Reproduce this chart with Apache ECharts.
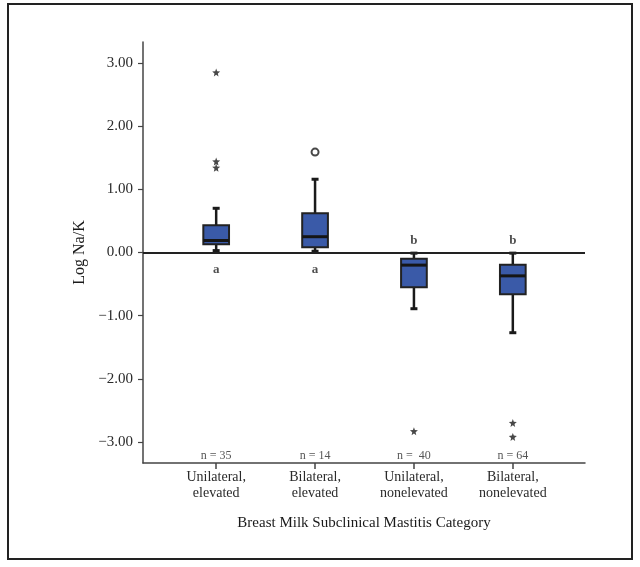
<!DOCTYPE html>
<html>
<head>
<meta charset="utf-8">
<script src="https://cdn.jsdelivr.net/npm/echarts@6/dist/echarts.min.js"></script>
<style>html,body{margin:0;padding:0;background:#fff}#c{width:640px;height:567px}</style>
</head>
<body>
<div id="c"></div>
<script>
const categories = ['Unilateral,\nelevated', 'Bilateral,\nelevated', 'Unilateral,\nnonelevated', 'Bilateral,\nnonelevated'];
const lowerWhisker = [0.03, 0.02, -0.89, -1.27];
const q1 = [0.13, 0.085, -0.55, -0.66];
const median = [0.19, 0.25, -0.20, -0.37];
const q3 = [0.43, 0.62, -0.10, -0.195];
const upperWhisker = [0.70, 1.16, -0.01, -0.01];
const extremeOutliers = [[1, 2.85], [1, 1.44], [1, 1.34], [3, -2.83], [4, -2.70], [4, -2.92]];
const mildOutliers = [[2, 1.59]];
const nLabels = ['n = 35', 'n = 14', 'n =  40', 'n = 64'];
const nLabelY = -3.22;
const letters = ['a', 'a', 'b', 'b'];
const letterY = [-0.27, -0.27, 0.18, 0.18];
const yTicks = [-3, -2, -1, 0, 1, 2, 3];

const chart = echarts.init(document.getElementById('c'));
const serif = '"Liberation Serif", "DejaVu Serif", serif';
const boxData = categories.map((c, i) => [i + 1, lowerWhisker[i], q1[i], median[i], q3[i], upperWhisker[i]]);
const starPath = 'path://M12,0 L15,8 L24,9 L17,15 L19,24 L12,19 L5,24 L7,15 L0,9 L9,8 Z';

function fmtY(v) {
  const s = Math.abs(v).toFixed(2);
  return v < 0 ? '\u2212' + s : s;
}

chart.setOption({
  animation: false,
  backgroundColor: '#fff',
  graphic: [{
    type: 'rect',
    shape: { x: 8, y: 4, width: 624, height: 555 },
    style: { fill: 'none', stroke: '#222', lineWidth: 2 },
    silent: true
  }],
  grid: { left: 143, top: 42, right: 55, bottom: 104 },
  xAxis: {
    type: 'value',
    min: 0.26, max: 4.73,
    splitLine: { show: false },
    axisLine: { show: true, onZero: false, lineStyle: { color: '#444', width: 1.5 } },
    axisTick: { show: true, customValues: [1, 2, 3, 4], length: 6, lineStyle: { color: '#444', width: 1.5 } },
    axisLabel: {
      customValues: [1, 2, 3, 4],
      formatter: v => categories[Math.round(v) - 1],
      fontFamily: serif, fontSize: 14, color: '#2a2a2a', lineHeight: 16, margin: 6
    },
    name: 'Breast Milk Subclinical Mastitis Category',
    nameLocation: 'middle', nameGap: 53,
    nameTextStyle: { fontFamily: serif, fontSize: 15, color: '#1a1a1a' }
  },
  yAxis: {
    type: 'value',
    min: -3.333, max: 3.333,
    splitLine: { show: false },
    axisLine: { show: true, onZero: false, lineStyle: { color: '#444', width: 1.5 } },
    axisTick: { show: true, customValues: yTicks, length: 5, lineStyle: { color: '#444', width: 1.2 } },
    axisLabel: {
      customValues: yTicks, formatter: fmtY,
      fontFamily: serif, fontSize: 15, color: '#2a2a2a', margin: 10
    },
    name: 'Log Na/K',
    nameLocation: 'middle', nameGap: 54, nameRotate: 90,
    nameTextStyle: { fontFamily: serif, fontSize: 16, color: '#1a1a1a' }
  },
  series: [
    {
      type: 'custom',
      data: boxData,
      z: 3,
      renderItem: function (params, api) {
        const x = api.value(0);
        const w = api.size([0.26, 0])[0];
        const capW = 7;
        const pLow = api.coord([x, api.value(1)]);
        const pQ1 = api.coord([x, api.value(2)]);
        const pMed = api.coord([x, api.value(3)]);
        const pQ3 = api.coord([x, api.value(4)]);
        const pHigh = api.coord([x, api.value(5)]);
        const cx = pQ1[0];
        return {
          type: 'group',
          children: [
            { type: 'line', shape: { x1: cx, y1: pQ3[1], x2: cx, y2: pHigh[1] }, style: { stroke: '#1a1a1a', lineWidth: 2.5 } },
            { type: 'line', shape: { x1: cx, y1: pQ1[1], x2: cx, y2: pLow[1] }, style: { stroke: '#1a1a1a', lineWidth: 2.5 } },
            { type: 'line', shape: { x1: cx - capW / 2, y1: pHigh[1], x2: cx + capW / 2, y2: pHigh[1] }, style: { stroke: '#1a1a1a', lineWidth: 3 } },
            { type: 'line', shape: { x1: cx - capW / 2, y1: pLow[1], x2: cx + capW / 2, y2: pLow[1] }, style: { stroke: '#1a1a1a', lineWidth: 3 } },
            { type: 'rect', shape: { x: cx - w / 2, y: pQ3[1], width: w, height: pQ1[1] - pQ3[1] }, style: { fill: '#3a5aa8', stroke: '#222', lineWidth: 2 } },
            { type: 'line', shape: { x1: cx - w / 2, y1: pMed[1], x2: cx + w / 2, y2: pMed[1] }, style: { stroke: '#151515', lineWidth: 3 } }
          ]
        };
      },
      markLine: {
        silent: true, symbol: 'none', label: { show: false },
        lineStyle: { color: '#222', width: 2, type: 'solid' },
        data: [{ yAxis: 0 }]
      }
    },
    {
      type: 'scatter',
      data: extremeOutliers,
      symbol: starPath, symbolSize: 8,
      itemStyle: { color: '#1a1a1a' }, z: 4
    },
    {
      type: 'scatter',
      data: mildOutliers,
      symbol: 'circle', symbolSize: 7,
      itemStyle: { color: '#fff', borderColor: '#1a1a1a', borderWidth: 2 }, z: 4
    },
    {
      type: 'scatter',
      data: letters.map((l, i) => [i + 1, letterY[i]]),
      symbolSize: 0,
      label: {
        show: true, position: 'inside',
        formatter: p => letters[p.dataIndex],
        fontFamily: serif, fontSize: 13, fontWeight: 'bold', color: '#222'
      }
    },
    {
      type: 'scatter',
      data: nLabels.map((l, i) => [i + 1, nLabelY]),
      symbolSize: 0,
      label: {
        show: true, position: 'inside',
        formatter: p => nLabels[p.dataIndex],
        fontFamily: serif, fontSize: 12, color: '#2a2a2a'
      }
    }
  ]
});
</script>
</body>
</html>
